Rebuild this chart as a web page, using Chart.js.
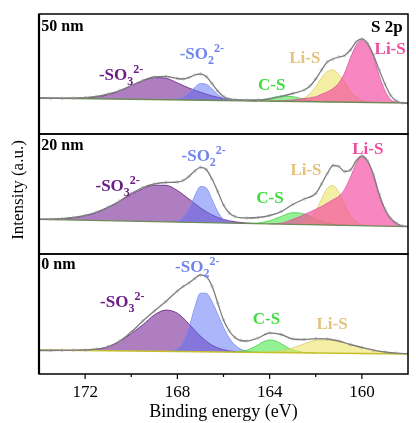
<!DOCTYPE html>
<html>
<head>
<meta charset="utf-8">
<script src="https://cdn.jsdelivr.net/npm/chart.js@4.4.0/dist/chart.umd.min.js"></script>
<style>
  html, body { margin: 0; padding: 0; background: #fff; }
  #wrap { width: 416px; height: 423px; position: relative; }
</style>
</head>
<body>
<div id="wrap"><canvas id="xps"></canvas></div>
<script>
// S 2p fits, [binding energy (eV), intensity] pairs, energy descending
// intensity is arbitrary units per panel (0..120)

// ---- 50 nm ----
const top_base = [[174, 36.0], [158, 31.0]];
const top_env = [[174,35.8],[173.5,35.6],[173,35.6],[172.5,35.8],[172,36.3],[171.5,37.5],[171,40.0],[170.5,43.5],[170,48.5],[169.5,53.5],[169,57.0],[168.5,57.5],[168,55.5],[167.75,55.0],[167.5,56.5],[167.25,59.0],[167,60.0],[166.75,57.5],[166.5,50.5],[166.25,43.0],[166,37.5],[165.75,35.0],[165.5,34.3],[165,34.0],[164.5,34.0],[164,35.0],[163.5,37.5],[163,40.5],[162.5,44.0],[162.25,48.0],[162,55.0],[161.75,64.0],[161.5,72.0],[161.25,75.0],[161,77.0],[160.75,78.5],[160.5,84.0],[160.25,92.0],[160,95.0],[159.75,90.5],[159.5,79.0],[159.25,64.0],[159,50.0],[158.75,38.5],[158.5,33.0],[158.25,31.0],[158,30.5]];
const top_so3 = [[174,36.0],[173,35.8],[172.5,35.8],[172,36.0],[171.5,37.0],[171,39.4],[170.5,43.2],[170,48.3],[169.5,53.1],[169,56.4],[168.5,55.8],[168,51.1],[167.5,46.0],[167,41.8],[166.5,38.2],[166,35.5],[165.5,34.1],[165,33.4],[164.5,33.0]];
const top_so2 = [[168.25,34.4],[168,35.0],[167.75,37.0],[167.5,41.0],[167.25,46.5],[167,50.4],[166.75,49.8],[166.5,45.2],[166.25,39.6],[166,35.8],[165.75,34.0],[165.5,33.4]];
const top_cs = [[165,33.3],[164.5,33.8],[164,35.7],[163.5,37.9],[163,37.4],[162.5,34.7],[162,32.75],[161.5,32.15],[161,31.94]];
const top_lis1 = [[163,32.9],[162.75,33.5],[162.5,35.9],[162.25,40.3],[162,47.3],[161.75,56.2],[161.5,62.6],[161.25,64.0],[161,59.4],[160.75,51.4],[160.5,42.8],[160.25,36.7],[160,33.4],[159.75,32.05],[159.5,31.6]];
const top_lis2 = [[164,32.9],[163.5,33.2],[163,34.1],[162.5,35.4],[162,37.3],[161.75,39.7],[161.5,42.1],[161.25,45.5],[161,50.9],[160.75,60.9],[160.5,75.8],[160.25,88.7],[160,93.6],[159.75,88.6],[159.5,77.5],[159.25,58.4],[159,43.3],[158.75,34.2],[158.5,32.2],[158.25,31.4],[158,31.0]];

// ---- 20 nm ----
const mid_base = [[174, 34.7], [158, 27.3]];
const mid_env = [[174,34.7],[173.5,34.9],[173,35.4],[172.5,36.5],[172,38.5],[171.5,41.8],[171,46.8],[170.5,53.0],[170,60.5],[169.5,66.5],[169,70.0],[168.5,71.5],[168,72.0],[167.75,73.5],[167.5,77.5],[167.25,83.0],[167,86.7],[166.75,84.5],[166.5,75.0],[166.25,62.5],[166,49.0],[165.75,41.0],[165.5,37.5],[165,36.0],[164.5,36.5],[164,38.5],[163.5,42.3],[163,49.5],[162.5,55.0],[162,60.5],[161.75,70.0],[161.5,80.5],[161.25,88.5],[161,87.5],[160.75,82.5],[160.5,84.0],[160.25,93.0],[160,98.0],[159.75,93.0],[159.5,79.5],[159.25,60.0],[159,45.0],[158.75,35.5],[158.5,30.8],[158.25,28.0],[158,27.5]];
const mid_so3 = [[174,34.7],[173.5,34.9],[173,35.2],[172.5,36.2],[172,38.2],[171.5,41.5],[171,46.5],[170.5,52.7],[170,59.5],[169.5,65.2],[169,68.8],[168.5,68.7],[168,63.5],[167.5,55.0],[167,46.2],[166.5,39.1],[166,34.6],[165.5,32.2],[165,31.0],[164.5,30.4]];
const mid_so2 = [[168.25,32.2],[168,33.1],[167.75,36.6],[167.5,45.0],[167.25,57.8],[167,67.5],[166.75,66.1],[166.5,54.7],[166.25,42.3],[166,34.7],[165.75,31.8],[165.5,30.9]];
const mid_cs = [[165,30.6],[164.5,31.0],[164,33.2],[163.5,37.6],[163,41.3],[162.5,40.0],[162,34.9],[161.5,30.8],[161,29.1],[160.5,28.5]];
const mid_lis1 = [[162.75,29.9],[162.5,32.4],[162.25,37.3],[162,43.0],[161.75,54.8],[161.5,65.6],[161.25,68.6],[161,61.6],[160.75,49.3],[160.5,38.5],[160.25,31.9],[160,29.2],[159.75,28.3]];
const mid_lis2 = [[164,30.1],[163.5,30.8],[163,34.6],[162.5,39.4],[162,44.7],[161.75,47.5],[161.5,50.9],[161.25,54.3],[161,57.7],[160.75,64.6],[160.5,76.5],[160.25,90.3],[160,97.2],[159.75,92.1],[159.5,78.0],[159.25,57.9],[159,43.8],[158.75,34.7],[158.5,30.0],[158.25,28.2],[158,27.5]];

// ---- 0 nm ----
const bot_base = [[174, 24.0], [158, 20.0]];
const bot_env = [[174,23.5],[173.5,23.5],[173,23.6],[172.5,23.8],[172,24.0],[171.5,25.0],[171,27.5],[170.5,33.0],[170,42.0],[169.5,53.0],[169,63.0],[168.5,72.5],[168,83.0],[167.75,87.5],[167.5,91.0],[167.25,95.5],[167,99.0],[166.75,97.5],[166.5,88.0],[166.25,71.0],[166,54.0],[165.75,43.0],[165.5,36.5],[165.25,33.5],[165,33.0],[164.5,36.0],[164,41.0],[163.5,39.5],[163,35.0],[162.5,34.5],[162,35.3],[161.5,35.0],[161,33.0],[160.5,29.5],[160,26.5],[159.5,23.8],[159,22.0],[158.5,20.8],[158,20.3]];
const bot_so3 = [[174,24.0],[173,23.75],[172.5,23.7],[172,23.8],[171.5,24.5],[171,27.25],[170.5,32.6],[170,40.5],[169.5,49.2],[169,59.0],[168.5,63.9],[168,60.8],[167.5,50.1],[167,37.9],[166.5,28.9],[166,24.3],[165.5,22.5],[165,21.85]];
const bot_so2 = [[168.25,23.2],[168,25.2],[167.75,31.8],[167.5,46.2],[167.25,66.1],[167,80.8],[166.75,80.7],[166.5,72.4],[166.25,59.8],[166,46.6],[165.75,35.9],[165.5,28.9],[165.25,24.8],[165,22.9],[164.75,22.1],[164.5,21.7]];
const bot_cs = [[165.5,22.1],[165,23.75],[164.75,26.0],[164.5,29.1],[164.25,32.4],[164,33.95],[163.75,33.1],[163.5,30.3],[163.25,26.8],[163,24.05],[162.5,21.5],[162,21.0]];
const bot_lis1 = [[164.5,21.6],[164,22.0],[163.5,23.2],[163,26.05],[162.5,30.2],[162,33.8],[161.5,34.2],[161,32.45],[160.5,29.4],[160,26.2],[159.5,23.6],[159,21.85],[158.5,20.8],[158,20.25]];

const xTicks = [172, 168, 164, 160];

const SERIF = "'Liberation Serif', 'Times New Roman', serif";

const compStyle = {
  so3:  { fill: 'rgba(120, 40, 150, 0.6)',  line: '#5e1c7c', order: 6 },
  so2:  { fill: 'rgba(90, 110, 245, 0.5)',  line: '#7d8cf0', order: 5 },
  cs:   { fill: 'rgba(60, 230, 60, 0.55)',  line: '#49c949', order: 4 },
  lis1: { fill: 'rgba(235, 225, 90, 0.55)', line: '#d6cd6a', order: 3 },
  lis2: { fill: 'rgba(245, 70, 160, 0.65)', line: '#d9559a', order: 2 }
};

const panels = [
  { axis: 'yTop', base: top_base, baseColor: '#6d8b58', env: top_env,
    comps: { so3: top_so3, so2: top_so2, cs: top_cs, lis1: top_lis1, lis2: top_lis2 } },
  { axis: 'yMid', base: mid_base, baseColor: '#6d8b58', env: mid_env,
    comps: { so3: mid_so3, so2: mid_so2, cs: mid_cs, lis1: mid_lis1, lis2: mid_lis2 } },
  { axis: 'yBot', base: bot_base, baseColor: '#c6bf2a', env: bot_env,
    comps: { so3: bot_so3, so2: bot_so2, cs: bot_cs, lis1: bot_lis1 } }
];

// text annotations: [panel axis, energy, intensity, pieces, colour, size]
// pieces: m = normal, b = subscript, p = superscript
const SO3 = [['-SO', 'm'], ['3', 'b'], ['2-', 'p']];
const SO2 = [['-SO', 'm'], ['2', 'b'], ['2-', 'p']];
const notes = [
  ['yTop', 173.9, 102.7, [['50 nm', 'm']], '#000', 16],
  ['yTop', 159.6, 101.7, [['S 2p', 'm']], '#000', 17],
  ['yTop', 171.4, 54, SO3, '#6a1b86', 17],
  ['yTop', 167.9, 75, SO2, '#6f84ee', 17],
  ['yTop', 164.5, 44, [['C-S', 'm']], '#3fdc3f', 17],
  ['yTop', 163.15, 70.7, [['Li-S', 'm']], '#e5c27e', 17],
  ['yTop', 159.45, 80, [['Li-S', 'm']], '#ee4c9c', 17],
  ['yMid', 173.9, 103.7, [['20 nm', 'm']], '#000', 16],
  ['yMid', 171.55, 62.7, SO3, '#6a1b86', 17],
  ['yMid', 167.82, 92.7, SO2, '#6f84ee', 17],
  ['yMid', 164.58, 51, [['C-S', 'm']], '#3fdc3f', 17],
  ['yMid', 163.1, 79.3, [['Li-S', 'm']], '#e5c27e', 17],
  ['yMid', 160.42, 100.3, [['Li-S', 'm']], '#ee4c9c', 17],
  ['yBot', 173.9, 104.7, [['0 nm', 'm']], '#000', 16],
  ['yBot', 168.1, 102, SO2, '#6f84ee', 17],
  ['yBot', 171.35, 67, SO3, '#6a1b86', 17],
  ['yBot', 164.73, 50.3, [['C-S', 'm']], '#3fdc3f', 17],
  ['yBot', 161.97, 45.3, [['Li-S', 'm']], '#e5c27e', 17]
];

const pts = arr => arr.map(([x, y]) => ({ x, y }));

const datasets = [];
panels.forEach(p => {
  const baseIdx = datasets.length;
  datasets.push({
    data: pts(p.base), yAxisID: p.axis, borderColor: p.baseColor, borderWidth: 1.3,
    pointRadius: 0, fill: false, order: 1
  });
  Object.keys(p.comps).forEach(k => {
    const st = compStyle[k];
    datasets.push({
      data: pts(p.comps[k]), yAxisID: p.axis, fill: baseIdx,
      backgroundColor: st.fill, borderColor: st.line, borderWidth: 0.8,
      pointRadius: 0, cubicInterpolationMode: 'monotone', order: st.order
    });
  });
  datasets.push({
    data: pts(p.env), yAxisID: p.axis, fill: false, borderColor: '#7b7b7b', borderWidth: 1.3,
    pointRadius: 1.3, pointBorderWidth: 0.7, pointBorderColor: 'rgba(160,160,160,0.7)',
    pointBackgroundColor: 'rgba(255,255,255,0)', cubicInterpolationMode: 'monotone', order: 0
  });
});

const panelScale = {
  type: 'linear', position: 'left', stack: 'xps', stackWeight: 1, min: 0, max: 120,
  grid: { display: false, drawTicks: false }, border: { display: false },
  ticks: { display: false, padding: 0 }
};

function drawPieces(ctx, x, y, pieces, color, size) {
  ctx.fillStyle = color;
  ctx.textBaseline = 'alphabetic';
  ctx.textAlign = 'left';
  let cx = x;
  pieces.forEach(([t, kind]) => {
    const fs = kind === 'm' ? size : Math.round(size * 0.68);
    const dy = kind === 'b' ? size * 0.28 : kind === 'p' ? -size * 0.42 : 0;
    ctx.font = 'bold ' + fs + 'px ' + SERIF;
    ctx.fillText(t, cx, y + dy);
    cx += ctx.measureText(t).width;
  });
}

const xpsDecor = {
  id: 'xpsDecor',
  afterDatasetsDraw(chart) {
    const { ctx, chartArea: a, scales } = chart;
    const x = scales.x;
    ctx.save();
    // panel frames
    ctx.strokeStyle = '#000';
    ctx.lineWidth = 1.5;
    ['yTop', 'yMid', 'yBot'].forEach(id => {
      const s = scales[id];
      ctx.strokeRect(a.left, s.top, a.right - a.left, s.bottom - s.top);
    });
    ctx.lineWidth = 2.2;
    ctx.beginPath();
    ctx.moveTo(a.left, a.top);
    ctx.lineTo(a.left, a.bottom);
    ctx.stroke();
    // outward ticks, majors labelled, minors between
    ctx.lineWidth = 1.2;
    x.ticks.forEach(t => {
      if (t.value <= x.min || t.value >= x.max) return;
      const px = x.getPixelForValue(t.value);
      const len = xTicks.includes(t.value) ? 5 : 3;
      ctx.beginPath();
      ctx.moveTo(px, a.bottom);
      ctx.lineTo(px, a.bottom + len);
      ctx.stroke();
    });
    // annotations
    notes.forEach(([axis, e, v, pieces, color, size]) => {
      drawPieces(ctx, x.getPixelForValue(e), scales[axis].getPixelForValue(v), pieces, color, size);
    });
    // y title
    ctx.translate(19, (a.top + a.bottom) / 2 - 4);
    ctx.rotate(-Math.PI / 2);
    ctx.font = '17px ' + SERIF;
    ctx.fillStyle = '#000';
    ctx.textAlign = 'center';
    ctx.textBaseline = 'middle';
    ctx.fillText('Intensity (a.u.)', 0, 0);
    ctx.restore();
  }
};

new Chart(document.getElementById('xps'), {
  type: 'line',
  data: { datasets },
  options: {
    responsive: true,
    maintainAspectRatio: false,
    animation: false,
    layout: { padding: { left: 39, top: 14, right: 1, bottom: 0 } },
    plugins: { legend: { display: false }, tooltip: { enabled: false } },
    scales: {
      x: {
        type: 'linear', reverse: true, min: 158, max: 174,
        grid: { display: false, drawTicks: false }, border: { display: false },
        afterFit: s => { s.height = 49; },
        ticks: {
          stepSize: 2, autoSkip: false, maxRotation: 0, padding: 8, color: '#000',
          font: { family: SERIF, size: 17 },
          callback: v => xTicks.includes(v) ? String(v) : ''
        },
        title: {
          display: true, text: 'Binding energy (eV)', color: '#000',
          font: { family: SERIF, size: 18 }, padding: { top: 0, bottom: 0 }
        }
      },
      yBot: { ...panelScale },
      yMid: { ...panelScale },
      yTop: { ...panelScale }
    }
  },
  plugins: [xpsDecor]
});
</script>
</body>
</html>
